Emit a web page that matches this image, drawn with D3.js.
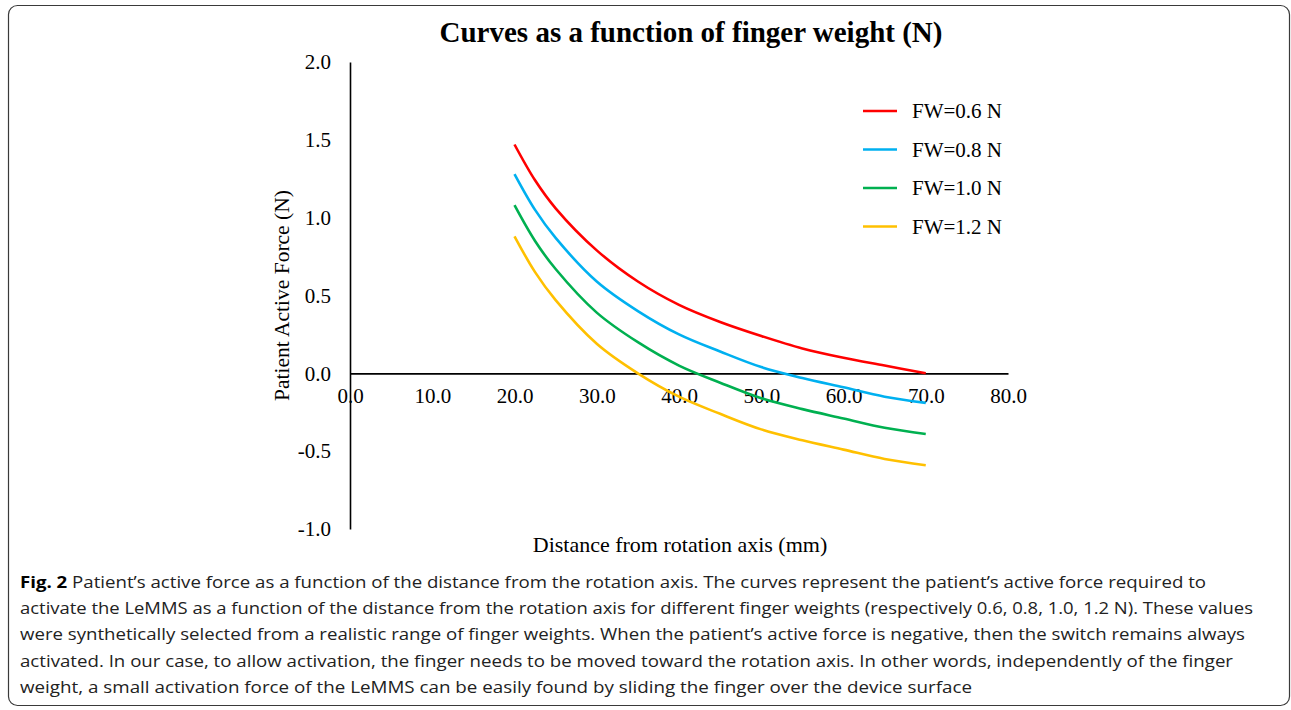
<!DOCTYPE html>
<html>
<head>
<meta charset="utf-8">
<script src="https://cdn.jsdelivr.net/npm/d3@7"></script>
<style>
  body { margin: 0; background: #fff; }
  svg { display: block; }
</style>
</head>
<body>
<div class="chart"></div>
<script>
// distance from rotation axis (mm)
const distances = [20, 22.5, 25, 30, 35, 40, 45, 50, 55, 60, 65, 70]

// patient active force (N)
const fw06 = [1.47, 1.24, 1.06, 0.79, 0.59, 0.44, 0.33, 0.24, 0.16, 0.10, 0.05, 0.00]
const fw08 = [1.28, 1.05, 0.87, 0.59, 0.40, 0.25, 0.14, 0.04, -0.03, -0.09, -0.15, -0.19]
const fw10 = [1.08, 0.85, 0.67, 0.39, 0.20, 0.05, -0.06, -0.16, -0.23, -0.29, -0.35, -0.39]
const fw12 = [0.88, 0.65, 0.47, 0.19, 0.00, -0.15, -0.26, -0.36, -0.43, -0.49, -0.55, -0.59]

const series_names = ["FW=0.6 N", "FW=0.8 N", "FW=1.0 N", "FW=1.2 N"]
const series_colors = ["#ff0000", "#00b0f0", "#00b050", "#ffc000"]

const x_ticks = [0, 10, 20, 30, 40, 50, 60, 70, 80]
const y_ticks = [-1.0, -0.5, 0.0, 0.5, 1.0, 1.5, 2.0]

const caption_lines = [
    ["Fig. 2", " Patient\u2019s active force as a function of the distance from the rotation axis. The curves represent the patient\u2019s active force required to"],
    ["", "activate the LeMMS as a function of the distance from the rotation axis for different finger weights (respectively 0.6, 0.8, 1.0, 1.2 N). These values"],
    ["", "were synthetically selected from a realistic range of finger weights. When the patient\u2019s active force is negative, then the switch remains always"],
    ["", "activated. In our case, to allow activation, the finger needs to be moved toward the rotation axis. In other words, independently of the finger"],
    ["", "weight, a small activation force of the LeMMS can be easily found by sliding the finger over the device surface"]
]
const caption_ends = [1206, 1253, 1245, 1233, 972]

const ctx = {
    W: 1291,
    H: 710,
    serif: "'Liberation Serif', 'Times New Roman', serif",
}

function draw() {
    const svg = d3.select(".chart").append("svg")
        .attr("width", ctx.W)
        .attr("height", ctx.H)

    // frame round figure + caption
    svg.append("rect")
        .attr("x", 8.5).attr("y", 5.5)
        .attr("width", 1281).attr("height", 700)
        .attr("rx", 9)
        .attr("fill", "none")
        .attr("stroke", "#3a3a3a")
        .attr("stroke-width", 1.2)

    const x = d3.scaleLinear().domain([0, 80]).range([350, 1008])
    const y = d3.scaleLinear().domain([-1, 2]).range([529, 62])

    svg.append("text")
        .attr("x", 691).attr("y", 42)
        .attr("text-anchor", "middle")
        .style("font-family", ctx.serif)
        .style("font-weight", "bold")
        .style("font-size", "29px")
        .text("Curves as a function of finger weight (N)")

    // y axis
    const y_axis = svg.append("g")
        .attr("transform", `translate(${x(0)},0)`)
        .call(d3.axisLeft(y).tickValues(y_ticks).tickSize(0).tickPadding(19)
            .tickFormat(d3.format(".1f")))
    y_axis.select(".domain").attr("stroke", "#000").attr("stroke-width", 1.6)
    y_axis.selectAll("text")
        .style("font-family", ctx.serif)
        .style("font-size", "21px")
        .attr("fill", "#000")
        .text(d => d < 0 ? "-" + Math.abs(d).toFixed(1) : d.toFixed(1))

    // x axis through y=0
    const x_axis = svg.append("g")
        .attr("transform", `translate(0,${y(0)})`)
        .call(d3.axisBottom(x).tickValues(x_ticks).tickSize(0).tickPadding(15)
            .tickFormat(d3.format(".1f")))
    x_axis.select(".domain").attr("stroke", "#000").attr("stroke-width", 1.6)
    x_axis.selectAll("text")
        .style("font-family", ctx.serif)
        .style("font-size", "21px")
        .attr("fill", "#000")

    svg.append("text")
        .attr("transform", `translate(289,${y(0.5)}) rotate(-90)`)
        .attr("text-anchor", "middle")
        .style("font-family", ctx.serif)
        .style("font-size", "21.5px")
        .text("Patient Active Force (N)")

    svg.append("text")
        .attr("x", 680).attr("y", 552)
        .attr("text-anchor", "middle")
        .style("font-family", ctx.serif)
        .style("font-size", "22px")
        .text("Distance from rotation axis (mm)")

    // curves
    const all_series = [fw06, fw08, fw10, fw12]
    const line = d3.line()
        .x(d => x(d[0]))
        .y(d => y(d[1]))
        .curve(d3.curveCatmullRom.alpha(0.5))

    svg.append("g")
        .selectAll("path")
        .data(all_series)
        .enter()
        .append("path")
        .attr("d", vals => line(distances.map((d, i) => [d, vals[i]])))
        .attr("fill", "none")
        .attr("stroke", (d, i) => series_colors[i])
        .attr("stroke-width", 2.6)

    // legend
    const legend = svg.append("g")
        .selectAll("g")
        .data(series_names)
        .enter()
        .append("g")
        .attr("transform", (d, i) => `translate(863,${111 + i * 38.5})`)
    legend.append("line")
        .attr("x1", 0).attr("x2", 34)
        .attr("stroke", (d, i) => series_colors[i])
        .attr("stroke-width", 2.6)
    legend.append("text")
        .attr("x", 49).attr("y", 7)
        .style("font-family", ctx.serif)
        .style("font-size", "21px")
        .text(d => d)

    // caption
    const cap = svg.append("g")
        .style("font-family", "'Open Sans', 'Noto Sans', sans-serif")
        .style("font-size", "16px")
        .attr("fill", "#222")
    caption_lines.forEach((ln, i) => {
        const t = cap.append("text")
            .attr("x", 20)
            .attr("y", 588 + i * 26.2)
            .attr("textLength", caption_ends[i] - 20)
            .attr("lengthAdjust", "spacingAndGlyphs")
        if (ln[0]) t.append("tspan").style("font-weight", "bold").attr("fill", "#000").text(ln[0])
        t.append("tspan").text(ln[1])
    })
}

draw()
</script>
</body>
</html>
